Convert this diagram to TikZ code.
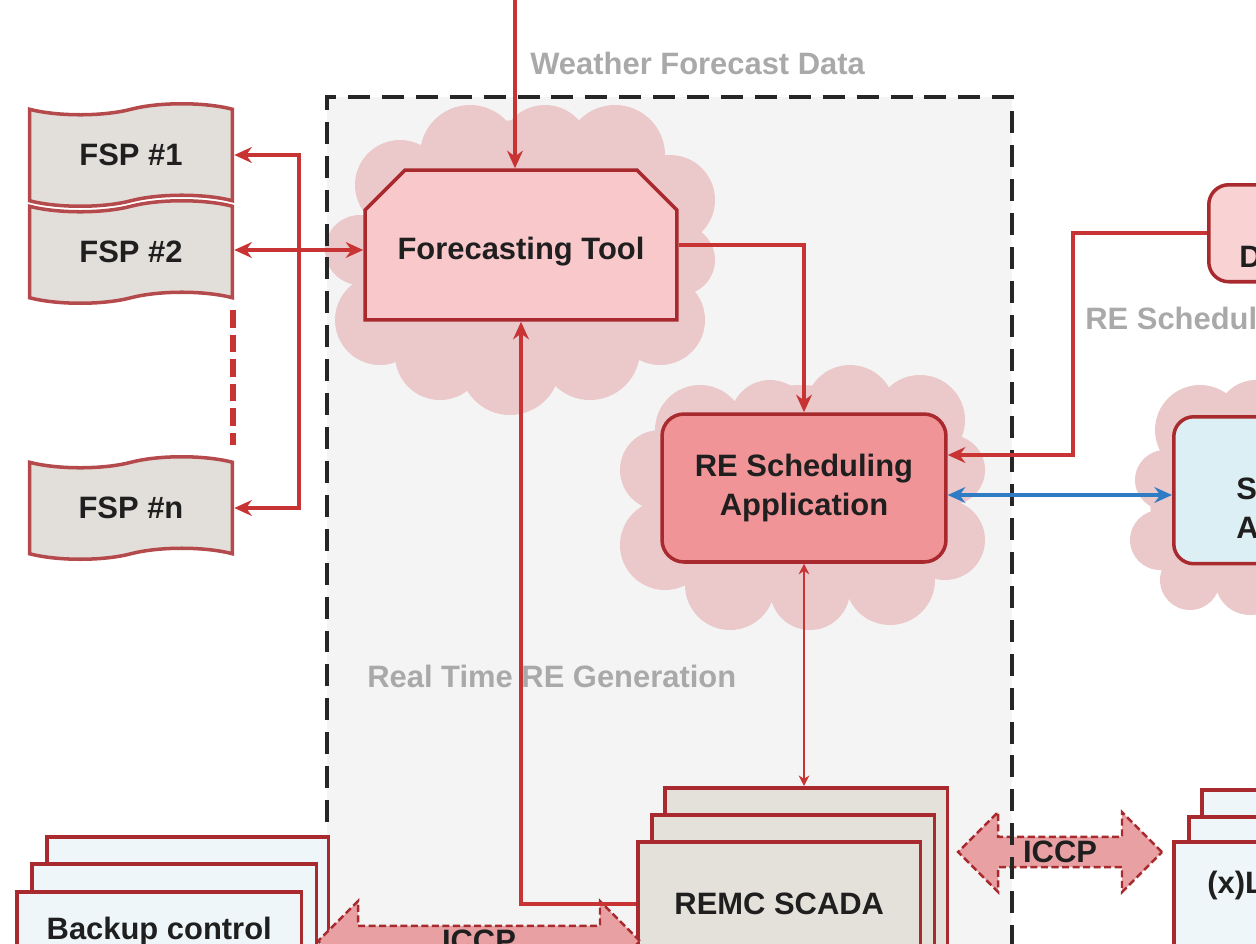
\documentclass[tikz,border=0pt]{standalone}
\usepackage{fontspec}
\setmainfont{Liberation Sans}
\usetikzlibrary{positioning}
\usetikzlibrary{arrows.meta}
\usetikzlibrary{shapes.misc,shapes.symbols,shapes.arrows}

\definecolor{boxred}{HTML}{A82A2E}
\definecolor{linered}{HTML}{C83434}
\definecolor{cloudpink}{HTML}{EBC9CA}
\definecolor{fcpink}{HTML}{F9C8CA}
\definecolor{schedred}{HTML}{F19497}
\definecolor{dpink}{HTML}{F9D3D4}
\definecolor{fspgray}{HTML}{E2DFDB}
\definecolor{scadagray}{HTML}{E4E1DB}
\definecolor{paleblue}{HTML}{DCEFF5}
\definecolor{iceblue}{HTML}{EEF6F9}
\definecolor{iccppink}{HTML}{E8A0A2}
\definecolor{zonegray}{HTML}{F4F4F4}
\definecolor{labelgray}{HTML}{A9A9A9}
\definecolor{linkblue}{HTML}{2F7BC4}

\begin{document}
\begin{tikzpicture}[x=0.02cm, y=-0.02cm, >={Stealth[length=10pt,width=9pt]},
	txt/.style={font=\fontsize{17.6}{22.5}\selectfont\bfseries, text=black!88},
	note/.style={font=\fontsize{17.6}{20}\selectfont\bfseries, text=labelgray, anchor=west, inner sep=0pt},
	box/.style={draw=boxred, line width=2pt, txt, inner sep=0pt},
	fsp/.style={box, tape, fill=fspgray, draw=boxred!85!white, minimum width=4.06cm, minimum height=2.05cm, tape bend height=0.22cm},
	layer/.style={box, anchor=north west, minimum height=4cm},
	iccp/.style={double arrow, draw=boxred, fill=iccppink, dash pattern=on 4pt off 2pt, line width=1.4pt, txt, inner sep=0pt, double arrow head extend=0.4cm, minimum width=1.6cm},
	conn/.style={draw=linered, line width=2pt},
	thinconn/.style={draw=linered, line width=1pt, >={Stealth[length=6pt,width=6pt]}},
	blueconn/.style={draw=linkblue, line width=2pt},
	fence/.style={draw=black!85, line width=2.4pt, dash pattern=on 12.5pt off 6.8pt}
	]
	\useasboundingbox (0,0) rectangle (1256,943);
	\clip (0,0) rectangle (1256,943);

	\fill[zonegray] (327,97) rectangle (1012,960);

	\foreach \cx/\cy/\r in {400/185/45, 470/155/50, 545/150/45, 615/155/50, 670/200/45, 680/260/35, 660/320/45, 590/350/50, 510/365/50, 440/355/45, 380/320/45, 360/250/35, 520/250/130}
		\fill[cloudpink] (\cx,\cy) circle[radius={\r*0.02cm}];
	\foreach \cx/\cy/\r in {700/430/45, 770/420/40, 850/410/45, 920/420/45, 950/470/35, 945/540/40, 890/580/45, 810/590/40, 730/585/45, 665/545/45, 660/470/40, 800/495/110}
		\fill[cloudpink] (\cx,\cy) circle[radius={\r*0.02cm}];
	\foreach \cx/\cy/\r in {1200/430/45, 1256/420/40, 1165/480/30, 1160/540/30, 1190/580/30, 1250/580/35, 1230/500/80}
		\fill[cloudpink] (\cx,\cy) circle[radius={\r*0.02cm}];

	\node[fsp] (fsp1) at (131,155) {FSP \#1};
	\node[fsp] (fsp2) at (131,252) {FSP \#2};
	\node[fsp] (fspn) at (131,508) {FSP \#n};

	\node[box, chamfered rectangle, chamfered rectangle corners={north west,north east}, chamfered rectangle xsep=0.4cm, chamfered rectangle ysep=0.4cm, fill=fcpink, minimum width=6.24cm, minimum height=3cm, text height=0.72cm] (forecast) at (521,245) {Forecasting Tool};
	\node[box, rounded corners=0.44cm, fill=schedred, minimum width=5.68cm, minimum height=2.96cm, align=center] (resched) at (804,488) {RE Scheduling\\Application};

	\node[box, rounded corners=0.4cm, fill=dpink, anchor=north west, minimum width=4cm, minimum height=1.94cm] (dsys) at (1207,183) {};
	\node[box, rounded corners=0.4cm, fill=paleblue, anchor=north west, minimum width=4cm, minimum height=2.94cm] (sapp) at (1172,415) {};

	\node[layer, fill=scadagray, minimum width=5.66cm] (scadac) at (663,786) {};
	\node[layer, fill=scadagray, minimum width=5.66cm] (scadab) at (650,813) {};
	\node[layer, fill=scadagray, minimum width=5.66cm, minimum height=2.48cm] (scada) at (636,840) {REMC SCADA};

	\node[layer, fill=iceblue, minimum width=4cm] (xlc) at (1200,788) {};
	\node[layer, fill=iceblue, minimum width=4cm] (xlb) at (1187,815) {};
	\node[layer, fill=iceblue, minimum width=4cm] (xla) at (1172,840) {};

	\node[layer, fill=iceblue, minimum width=5.64cm] (backc) at (45,835) {};
	\node[layer, fill=iceblue, minimum width=5.7cm] (backb) at (30,862) {};
	\node[layer, fill=iceblue, minimum width=5.7cm, minimum height=1.6cm] (backa) at (15,890) {Backup control};

	\node[iccp, minimum height=4.08cm] (iccpr) at (1060,852) {ICCP};
	\node[iccp, minimum height=6.44cm] (iccpl) at (479,941) {ICCP};

	\draw[fence] (327,822) |- (1012,97) -- (1012,960);

	\node[txt, anchor=west, inner sep=0pt] (dtxt) at (1239,257) {D};
	\node[txt, anchor=west, inner sep=0pt, align=left] (stxt) at (1236,508) {S\\A};
	\node[txt, anchor=west, inner sep=0pt] (xltxt) at (1207,885) {(x)L};

	\node[note] (wfd) at (530,63) {Weather Forecast Data};
	\node[note] (rtg) at (367,676) {Real Time RE Generation};
	\node[note] (rsl) at (1085,318) {RE Schedul};

	\coordinate (wx) at (515,-10);
	\coordinate (bus) at (299,250);
	\coordinate (djog) at (1073,455);
	\coordinate (blu) at (0,495);

	\draw[conn,->] (wx) -- (wx |- forecast.north);
	\draw[conn,<->] (fsp2.east |- bus) -- (bus -| forecast.west);
	\draw[conn,->] (bus) |- (fsp1.east);
	\draw[conn,->] (bus) |- (fspn.east);
	\draw[conn, line width=3pt, dash pattern=on 10pt off 4pt] (233,310) -- (233,445);
	\draw[conn,->] (forecast.east) -| (resched.north);
	\draw[conn,->] (scada.west) -| (forecast.south);
	\draw[thinconn,<->] (resched.south) -- (resched.south |- scadac.north);
	\draw[conn,->] (dsys.west) -| (djog) -- (djog -| resched.east);
	\draw[blueconn,<->] (resched.east |- blu) -- (sapp.west |- blu);
\end{tikzpicture}
\end{document}
